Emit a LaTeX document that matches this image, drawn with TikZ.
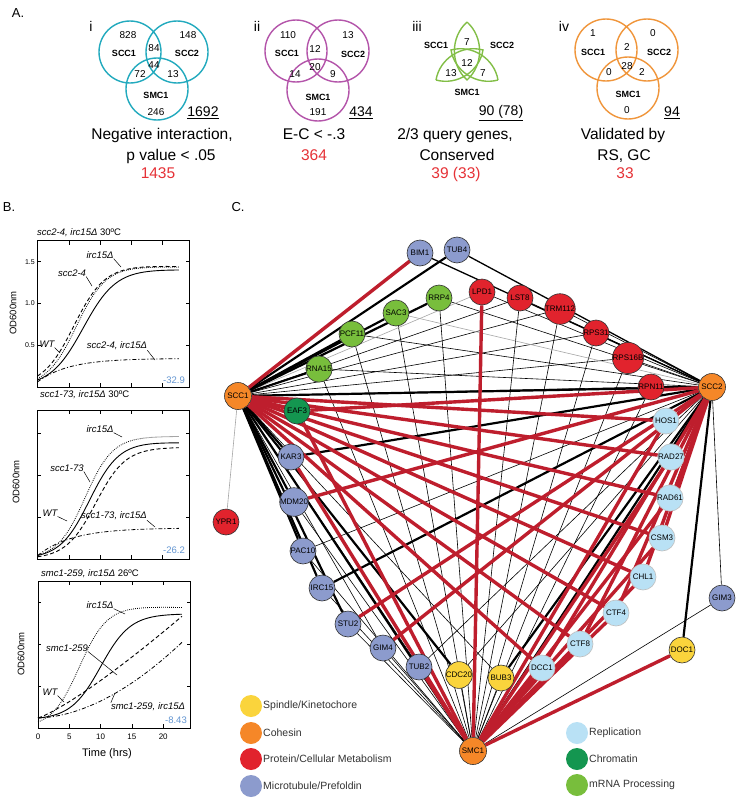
\documentclass[tikz,border=0pt]{standalone}
\usepackage{fontspec}
\setmainfont{Liberation Sans}
\usetikzlibrary{backgrounds}
\definecolor{VennTeal}{RGB}{35,170,190}
\definecolor{VennPurple}{RGB}{180,85,170}
\definecolor{VennGreen}{RGB}{130,190,70}
\definecolor{VennOrange}{RGB}{240,150,60}
\definecolor{CountRed}{RGB}{230,50,55}
\definecolor{ScoreBlue}{RGB}{100,150,210}
\definecolor{EdgeRed}{RGB}{190,30,45}
\definecolor{Spindle}{RGB}{250,212,60}
\definecolor{Cohesin}{RGB}{245,135,40}
\definecolor{Metab}{RGB}{225,35,45}
\definecolor{Micro}{RGB}{140,155,205}
\definecolor{Repl}{RGB}{185,225,245}
\definecolor{Chrom}{RGB}{20,150,80}
\definecolor{MRNA}{RGB}{120,190,60}

% frame and ticks of one growth plot (axis units: hrs, OD)
\newcommand{\growthframe}[1]{%
  \draw[line width=0.8pt] (0,0) rectangle (24.3,#1);
  \foreach \t in {5,10,15,20} {\draw[line width=0.5pt] (\t,0) -- (\t,0.045); \draw[line width=0.5pt] (\t,#1) -- (\t,#1-0.045);}
  \foreach \v in {0.5,1,1.5} {\draw[line width=0.5pt] (0,\v) -- (0.5,\v); \draw[line width=0.5pt] (24.3,\v) -- (23.8,\v);}%
}

\begin{document}
\begin{tikzpicture}[x=1pt, y=-1pt, every node/.style={inner sep=0pt}]
  \tikzstyle{panel}=[font=\fontsize{13}{14}\selectfont]
  \tikzstyle{venn}=[line width=1.4pt]
  \tikzstyle{vnum}=[font=\fontsize{10}{11}\selectfont]
  \tikzstyle{vname}=[font=\bfseries\fontsize{9}{10}\selectfont]
  \tikzstyle{vroman}=[font=\fontsize{14}{15}\selectfont]
  \tikzstyle{vtotal}=[font=\fontsize{14}{15}\selectfont]
  \tikzstyle{vcap}=[font=\fontsize{15.5}{18}\selectfont, anchor=base]
  \tikzstyle{vcount}=[vcap, text=CountRed]
  \tikzstyle{ptitle}=[font=\fontsize{9.5}{11}\selectfont, anchor=west]
  \tikzstyle{curvelbl}=[font=\itshape\fontsize{9.5}{11}\selectfont]
  \tikzstyle{score}=[font=\fontsize{9.5}{11}\selectfont, text=ScoreBlue, anchor=east]
  \tikzstyle{axlbl}=[font=\fontsize{9.5}{11}\selectfont]
  \tikzstyle{ticklbl}=[font=\fontsize{7}{8}\selectfont]
  \tikzstyle{leader}=[line width=0.5pt]
  \tikzstyle{wt}=[line width=0.9pt]
  \tikzstyle{single}=[line width=0.9pt, dash pattern=on 4pt off 2.5pt]
  \tikzstyle{ircd}=[line width=0.8pt, dash pattern=on 0.8pt off 1.2pt]
  \tikzstyle{double}=[line width=0.8pt, dash pattern=on 4pt off 2pt on 1pt off 2pt]
  \tikzstyle{gene}=[circle, draw=black!80, line width=0.6pt, minimum size=26pt, font=\fontsize{8}{9}\selectfont]
  \tikzstyle{hub}=[gene, fill=Cohesin, minimum size=27pt]
  \tikzstyle{ered}=[draw=EdgeRed, line width=3.4pt]
  \tikzstyle{ethick}=[draw=black, line width=2.2pt]
  \tikzstyle{emed}=[draw=black, line width=1.3pt]
  \tikzstyle{ethin}=[draw=black, line width=0.6pt]
  \tikzstyle{egray}=[draw=black!35, line width=0.6pt]
  \tikzstyle{legdot}=[circle, minimum size=22pt]
  \tikzstyle{legtxt}=[font=\fontsize{10.5}{12}\selectfont, anchor=west, text=black!80]

  \useasboundingbox (0,0) rectangle (741,800);

  % A. Venn diagrams
  \node[panel] (labA) at (18,13) {A.};

  \node[vroman] (romI) at (91,26) {i};
  \draw[venn, VennTeal] (130,52) circle[radius=31] (177,52) circle[radius=31] (157,89) circle[radius=31];
  \foreach \x/\y/\t in {128/35/828, 154/48/84, 188/35/148, 154/65/44, 140/74/72, 173/74/13, 156/112/246}
    \node[vnum] (vI\x\y) at (\x,\y) {\t};
  \node[vname] (vIscc1) at (124,53) {SCC1};
  \node[vname] (vIscc2) at (187,53) {SCC2};
  \node[vname] (vIsmc1) at (156,95) {SMC1};
  \node[vtotal] (totI) at (203,113) {\underline{1692}};
  \node[vcap] (capIa) at (162,139) {Negative interaction,};
  \node[vcap] (capIb) at (171,160) {p value < .05};
  \node[vcount] (cntI) at (158,178) {1435};

  \node[vroman] (romII) at (257,26) {ii};
  \draw[venn, VennPurple] (296,51) circle[radius=31] (338,51) circle[radius=31] (318,90) circle[radius=31];
  \foreach \x/\y/\t in {288/35/110, 315/49/12, 348/35/13, 315/67/20, 295/74/14, 333/74/9, 318/112/191}
    \node[vnum] (vII\x\y) at (\x,\y) {\t};
  \node[vname] (vIIscc1) at (287,53) {SCC1};
  \node[vname] (vIIscc2) at (353,54) {SCC2};
  \node[vname] (vIIsmc1) at (318,97) {SMC1};
  \node[vtotal] (totII) at (361,113) {\underline{434}};
  \node[vcap] (capII) at (314,139) {E-C < -.3};
  \node[vcount] (cntII) at (314,160) {364};

  \node[vroman] (romIII) at (417,26) {iii};
  \draw[venn, VennGreen] (467,22) to[bend left=48] (467,80) to[bend left=48] (467,22);
  \draw[venn, VennGreen] (436,80) to[bend left=48] (483,50) to[bend left=48] (436,80);
  \draw[venn, VennGreen] (498,80) to[bend left=48] (451,50) to[bend left=48] (498,80);
  \foreach \x/\y/\t in {467/42/7, 467/63/12, 451/73/13, 483/73/7}
    \node[vnum] (vIII\x\y) at (\x,\y) {\t};
  \node[vname] (vIIIscc1) at (436,45) {SCC1};
  \node[vname] (vIIIscc2) at (502,45) {SCC2};
  \node[vname] (vIIIsmc1) at (467,92) {SMC1};
  \node[vtotal] (totIII) at (501,113) {\underline{90 (78)}};
  \node[vcap] (capIIIa) at (455,139) {2/3 query genes,};
  \node[vcap] (capIIIb) at (457,160) {Conserved};
  \node[vcount] (cntIII) at (456,178) {39 (33)};

  \node[vroman] (romIV) at (564,26) {iv};
  \draw[venn, VennOrange] (606,50) circle[radius=31] (647,50) circle[radius=31] (628,88) circle[radius=31];
  \foreach \x/\y/\t in {593/33/1, 627/47/2, 653/33/0, 627/66/28, 609/72/0, 642/72/2, 627/110/0}
    \node[vnum] (vIV\x\y) at (\x,\y) {\t};
  \node[vname] (vIVscc1) at (593,52) {SCC1};
  \node[vname] (vIVscc2) at (659,52) {SCC2};
  \node[vname] (vIVsmc1) at (628,94) {SMC1};
  \node[vtotal] (totIV) at (672,113) {\underline{94}};
  \node[vcap] (capIVa) at (623,139) {Validated by};
  \node[vcap] (capIVb) at (624,160) {RS, GC};
  \node[vcount] (cntIV) at (625,178) {33};

  % B. growth curves
  \node[panel] (labB) at (9,207) {B.};

  \node[ptitle] (titleB1) at (37,233) {\textit{scc2-4, irc15Δ} 30ºC};
  \node[axlbl, rotate=90] (odB1) at (13,313) {OD600nm};
  \foreach \v/\y in {1.5/262, 1.0/303, 0.5/345}
    \node[ticklbl, anchor=east] (tkB1\y) at (35,\y) {\v};
  \begin{scope}[xshift=37.5pt, yshift=-387pt, x=6.26pt, y=84pt]
    \growthframe{1.74}
    \draw[wt] plot[domain=0:22.6, samples=60, smooth] (\x, {1.42/(1+exp(-0.38*(\x-7.3)))-0.001*\x});
    \draw[ircd] plot[domain=0:22.6, samples=60, smooth] (\x, {1.46/(1+exp(-0.42*(\x-6.2)))-0.0015*\x});
    \draw[single] plot[domain=0:22.6, samples=60, smooth] (\x, {1.47/(1+exp(-0.4*(\x-5.8)))-0.0015*\x});
    \draw[double] plot[domain=0:22.6, samples=60, smooth] (\x, {0.06+0.28*(1-exp(-\x/5))});
  \end{scope}
  \node[curvelbl] (lB1irc) at (100,255) {irc15Δ};
  \node[curvelbl] (lB1mut) at (72,273) {scc2-4};
  \node[curvelbl] (lB1wt) at (47,344) {WT};
  \node[curvelbl] (lB1dbl) at (117,346) {scc2-4, irc15Δ};
  \coordinate (pB1irc) at (121,267);
  \coordinate (pB1mut) at (92,286);
  \coordinate (pB1wt) at (60,353);
  \coordinate (pB1dbl) at (155,360);
  \draw[leader] (lB1irc.south east) -- (pB1irc);
  \draw[leader] (lB1mut.south east) -- (pB1mut);
  \draw[leader] (lB1wt.south east) -- (pB1wt);
  \draw[leader] (lB1dbl.south east) -- (pB1dbl);
  \node[score] (sB1) at (185,380) {-32.9};

  \node[ptitle] (titleB2) at (40,395) {\textit{scc1-73, irc15Δ} 30ºC};
  \node[axlbl, rotate=90] (odB2) at (16,482) {OD600nm};
  \begin{scope}[xshift=37.5pt, yshift=-559pt, x=6.26pt, y=84pt]
    \growthframe{1.77}
    \draw[wt] plot[domain=0:22.6, samples=60, smooth] (\x, {1.42/(1+exp(-0.42*(\x-8.3)))-0.0015*\x});
    \draw[ircd] plot[domain=0:22.6, samples=60, smooth] (\x, {1.46/(1+exp(-0.45*(\x-7.6)))});
    \draw[single] plot[domain=0:22.6, samples=60, smooth] (\x, {1.33/(1+exp(-0.42*(\x-9.3)))});
    \draw[double] plot[domain=0:22.6, samples=60, smooth] (\x, {0.04+0.33*(1-exp(-\x/5.5))});
  \end{scope}
  \node[curvelbl] (lB2irc) at (100,429) {irc15Δ};
  \node[curvelbl] (lB2mut) at (67,468) {scc1-73};
  \node[curvelbl] (lB2wt) at (50,513) {WT};
  \node[curvelbl] (lB2dbl) at (114,516) {scc1-73, irc15Δ};
  \coordinate (pB2irc) at (122,437);
  \coordinate (pB2mut) at (90,482);
  \coordinate (pB2wt) at (67,521);
  \coordinate (pB2dbl) at (155,527);
  \draw[leader] (lB2irc.south east) -- (pB2irc);
  \draw[leader] (lB2mut.south east) -- (pB2mut);
  \draw[leader] (lB2wt.south east) -- (pB2wt);
  \draw[leader] (lB2dbl.south east) -- (pB2dbl);
  \node[score] (sB2) at (185,550) {-26.2};

  \node[ptitle] (titleB3) at (41,574) {\textit{smc1-259, irc15Δ} 26ºC};
  \node[axlbl, rotate=90] (odB3) at (21,654) {OD600nm};
  \begin{scope}[xshift=38pt, yshift=-728pt, x=6.26pt, y=84pt]
    \growthframe{1.75}
    \draw[ircd] plot[domain=0:23, samples=60, smooth] (\x, {1.47/(1+exp(-0.45*(\x-6.6)))-0.0015*\x});
    \draw[wt] plot[domain=0:23, samples=60, smooth] (\x, {0.1+1.26/(1+exp(-0.42*(\x-10)))});
    \draw[single] plot[domain=0:23, samples=60, smooth] (\x, {0.12+1.21*(\x/23)^1.2});
    \draw[double] plot[domain=0:23, samples=60, smooth] (\x, {0.12+0.9*(\x/23)^1.8});
  \end{scope}
  \foreach \t in {0,5,10,15,20}
    \node[ticklbl, font=\fontsize{8}{9}\selectfont] (xtB3\t) at (38+6.26*\t,737) {\t};
  \node[axlbl, font=\fontsize{11}{12}\selectfont] (timeB3) at (107,754) {Time (hrs)};
  \node[curvelbl] (lB3irc) at (100,605) {irc15Δ};
  \node[curvelbl] (lB3mut) at (67,648) {smc1-259};
  \node[curvelbl] (lB3wt) at (50,692) {WT};
  \node[curvelbl] (lB3dbl) at (148,707) {smc1-259, irc15Δ};
  \coordinate (pB3irc) at (125,614);
  \coordinate (pB3mut) at (117,675);
  \coordinate (pB3wt) at (64,702);
  \coordinate (pB3dbl) at (115,693);
  \draw[leader] (lB3irc.south east) -- (pB3irc);
  \draw[leader] (lB3mut.south east) -- (pB3mut);
  \draw[leader] (lB3wt.south east) -- (pB3wt);
  \draw[leader] (lB3dbl.north west) -- (pB3dbl);
  \node[score] (sB3) at (187,720) {-8.43};

  % C. interaction network
  \node[panel] (labC) at (238,207) {C.};
  \node[hub] (SCC1) at (238,396) {SCC1};
  \node[hub] (SCC2) at (712,387) {SCC2};
  \node[hub] (SMC1) at (473,751) {SMC1};
  \foreach \n/\x/\y in {BIM1/420/253, TUB4/457/250, KAR3/291/457, MDM20/294/502, PAC10/303/551,
      IRC15/322/588, STU2/348/624, GIM4/383/648, TUB2/419/667, GIM3/722/598}
    \node[gene, fill=Micro] (\n) at (\x,\y) {\n};
  \foreach \n/\x/\y in {LPD1/482/292, LST8/520/298, TRM112/560/309, RPS31/596/333, RPS16B/628/358,
      RPN11/651/387, YPR1/226/522}
    \node[gene, fill=Metab] (\n) at (\x,\y) {\n};
  \foreach \n/\x/\y in {RRP4/439/298, SAC3/396/313, PCF11/352/334, RNA15/319/369}
    \node[gene, fill=MRNA] (\n) at (\x,\y) {\n};
  \node[gene, fill=Chrom] (EAF3) at (297,411) {EAF3};
  \foreach \n/\x/\y in {CDC20/459/675, BUB3/501/678, DOC1/682/650}
    \node[gene, fill=Spindle] (\n) at (\x,\y) {\n};
  \foreach \n/\x/\y in {HOS1/666/421, RAD27/671/457, RAD61/670/498, CSM3/662/538, CHL1/643/577,
      CTF4/616/613, CTF8/580/644, DCC1/542/668}
    \node[gene, fill=Repl, draw=black!25] (\n) at (\x,\y) {\n};

  \begin{pgfonlayer}{background}
    \fill[white] (0,0) rectangle (741,800);
    \foreach \n in {LST8, TRM112, RPS31, RPS16B, RPN11, GIM4, TUB2, BUB3}
      \draw[ethin] (SCC1) -- (\n);
    \foreach \n in {RRP4, PCF11, RNA15, LPD1, LST8, TRM112, RPS31, RPS16B, HOS1, RAD27, RAD61, PAC10, TUB2, CDC20, GIM3}
      \draw[ethin] (SCC2) -- (\n);
    \foreach \n in {RNA15, PCF11, SAC3, RRP4, LST8, TRM112, RPS31, RPS16B, RPN11, MDM20, PAC10, IRC15, STU2, GIM4, CDC20, BUB3, GIM3}
      \draw[ethin] (SMC1) -- (\n);
    \draw[egray] (SCC1) -- (LPD1);
    \draw[egray] (SCC1) -- (YPR1);
    \draw[egray] (SCC2) -- (SAC3);
    \draw[emed] (SCC2) -- (BIM1);
    \draw[emed] (SCC2) -- (TUB4);
    \foreach \n in {TUB4, RRP4, SAC3, PCF11, RNA15, KAR3, MDM20, PAC10, IRC15, STU2, CDC20, SCC2, SMC1}
      \draw[ethick] (SCC1) -- (\n);
    \foreach \n in {RPN11, KAR3, IRC15, BUB3, DOC1, SMC1}
      \draw[ethick] (SCC2) -- (\n);
    \foreach \n in {BIM1, EAF3, HOS1, RAD27, RAD61, CSM3, CHL1, CTF4, CTF8, DCC1}
      \draw[ered] (SCC1) -- (\n);
    \foreach \n in {MDM20, STU2, GIM4, EAF3, CSM3, CHL1, CTF4, CTF8, DCC1}
      \draw[ered] (SCC2) -- (\n);
    \foreach \n in {LPD1, DOC1, EAF3, KAR3, TUB2, HOS1, RAD27, RAD61, CSM3, CHL1, CTF4, CTF8, DCC1}
      \draw[ered] (SMC1) -- (\n);
  \end{pgfonlayer}

  % legend
  \node[legdot, fill=Spindle] (legSpin) at (251,706) {};
  \node[legtxt] (legSpinT) at (263,706) {Spindle/Kinetochore};
  \node[legdot, fill=Cohesin] (legCoh) at (251,733) {};
  \node[legtxt] (legCohT) at (263,733) {Cohesin};
  \node[legdot, fill=Metab] (legMet) at (251,759) {};
  \node[legtxt] (legMetT) at (263,759) {Protein/Cellular Metabolism};
  \node[legdot, fill=Micro] (legMic) at (251,786) {};
  \node[legtxt] (legMicT) at (263,786) {Microtubule/Prefoldin};
  \node[legdot, fill=Repl] (legRep) at (577,733) {};
  \node[legtxt] (legRepT) at (589,733) {Replication};
  \node[legdot, fill=Chrom] (legChr) at (577,759) {};
  \node[legtxt] (legChrT) at (589,759) {Chromatin};
  \node[legdot, fill=MRNA] (legMrn) at (577,785) {};
  \node[legtxt] (legMrnT) at (589,785) {mRNA Processing};
\end{tikzpicture}
\end{document}
